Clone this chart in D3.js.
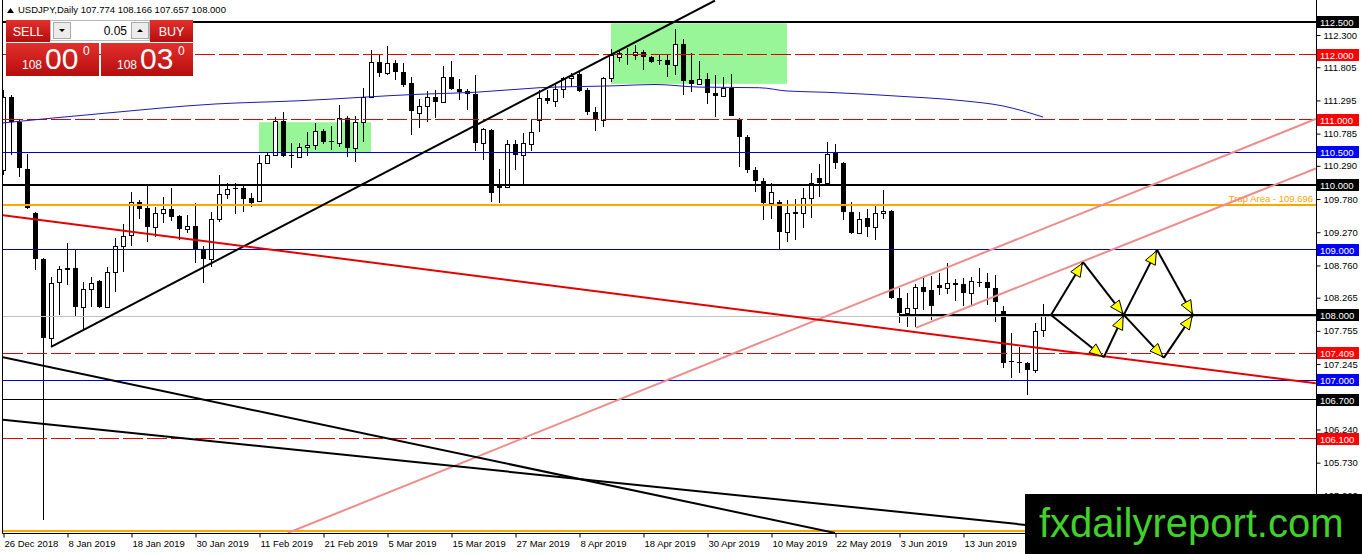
<!DOCTYPE html>
<html>
<head>
<meta charset="utf-8">
<script src="https://cdn.jsdelivr.net/npm/d3@7"></script>
<style>
  body { margin: 0; background: #fff; }
  svg { display: block; font-family: "Liberation Sans", Arial, sans-serif; }
</style>
</head>
<body>
<div id="chart"></div>
<script>
// USDJPY daily candles, 26 Dec 2018 .. 21 Jun 2019
const opens = [110.23,111.35,110.96,110.24,109.57,108.86,107.65,108.51,108.72,108.72,108.12,108.40,108.52,108.12,108.66,109.06,109.23,109.73,109.64,109.35,
  109.57,109.63,109.52,109.32,109.37,109.01,108.86,109.47,109.86,109.95,109.95,109.80,109.75,110.33,110.46,110.98,110.46,110.43,110.58,110.61,
  110.83,110.67,110.64,111.03,110.57,110.96,111.35,111.89,111.72,111.87,111.73,111.56,111.10,111.21,111.35,111.27,111.66,111.47,111.44,111.39,
  110.64,110.84,109.98,109.97,110.63,110.46,110.63,110.99,111.33,111.29,111.47,111.64,111.70,111.46,111.12,110.99,111.64,111.96,112.01,111.99,
  112.04,111.96,111.92,111.92,111.84,112.16,111.61,111.55,111.62,111.41,111.36,111.49,111.01,110.73,110.23,110.06,109.72,109.73,109.27,109.57,
  109.57,109.80,110.10,110.03,110.49,110.33,109.58,109.26,109.49,109.35,109.57,109.60,108.26,108.03,108.11,108.43,108.38,108.46,108.41,108.49,
  108.48,108.34,108.51,108.51,108.41,108.06,107.29,107.28,107.26,107.15,107.774];
const highs = [111.46,111.38,110.99,110.47,109.58,108.87,108.58,108.75,109.11,109.01,108.51,108.58,108.54,108.74,109.18,109.40,109.89,109.77,109.98,109.66,
  109.81,109.95,109.54,109.54,109.72,109.06,109.58,110.15,110.03,110.03,110.01,109.87,110.46,110.50,111.04,111.12,110.64,110.64,110.81,110.95,
  110.86,110.90,111.23,111.06,111.06,111.49,112.07,111.99,112.13,111.92,111.87,111.66,111.32,111.44,111.46,111.82,111.90,111.62,111.47,111.69,
  110.87,110.86,110.24,110.69,110.69,110.80,111.01,111.46,111.46,111.56,111.66,111.72,111.73,111.49,111.19,111.66,112.09,112.05,112.10,112.15,
  112.07,111.98,111.99,111.99,112.39,112.24,112.02,111.90,111.72,111.69,111.66,111.70,111.03,110.76,110.27,110.10,110.03,109.77,109.77,109.78,
  109.95,110.18,110.32,110.66,110.63,110.35,109.73,109.58,109.63,109.69,109.92,109.61,108.41,108.34,108.48,108.57,108.60,108.64,108.80,108.55,
  108.57,108.58,108.72,108.64,108.61,108.14,107.72,107.51,107.28,107.88,108.166];
const lows = [110.15,110.46,110.12,109.63,108.69,104.85,107.51,108.00,108.46,107.97,107.77,108.12,108.11,108.11,108.35,108.66,109.06,109.47,109.12,109.20,
  109.41,109.44,109.15,109.26,108.80,108.49,108.74,109.43,109.78,109.55,109.58,109.66,109.73,110.32,110.44,110.43,110.26,110.41,110.44,110.53,
  110.63,110.53,110.58,110.43,110.35,110.66,111.33,111.66,111.69,111.61,111.50,110.76,110.87,110.96,111.03,111.26,111.46,111.30,111.15,110.52,
  110.38,109.73,109.72,109.96,110.23,110.01,110.52,110.81,111.24,111.19,111.33,111.50,111.43,111.07,110.83,110.89,111.58,111.89,111.84,111.92,
  111.76,111.87,111.84,111.66,111.69,111.38,111.43,111.53,111.24,111.04,111.35,111.05,110.27,110.18,109.89,109.46,109.47,109.01,109.12,109.15,
  109.34,109.49,109.81,110.01,110.24,109.46,109.24,109.24,109.20,109.15,109.47,108.25,107.88,107.81,107.81,108.08,107.92,108.31,108.32,108.21,
  108.14,108.15,108.43,108.15,107.89,107.19,107.03,107.11,106.77,107.11,107.657];
const closes = [111.35,110.96,110.26,109.64,108.86,107.65,108.49,108.71,108.69,108.12,108.40,108.49,108.12,108.66,109.06,109.21,109.73,109.63,109.35,109.57,
  109.63,109.51,109.32,109.37,109.01,108.86,109.47,109.86,109.94,109.94,109.78,109.72,110.33,110.46,110.98,110.44,110.44,110.58,110.61,110.83,
  110.66,110.66,111.03,110.57,110.96,111.35,111.89,111.72,111.87,111.73,111.53,111.13,111.21,111.35,111.27,111.66,111.47,111.43,111.39,110.64,
  110.86,109.87,109.95,110.63,110.46,110.64,110.81,111.33,111.29,111.47,111.64,111.67,111.44,111.12,110.99,111.64,111.99,112.02,111.99,112.04,
  111.96,111.89,111.90,111.84,112.16,111.59,111.55,111.62,111.41,111.36,111.49,111.06,110.73,110.23,110.06,109.72,109.89,109.27,109.57,109.58,
  109.80,110.03,110.03,110.47,110.33,109.58,109.26,109.47,109.35,109.57,109.60,108.26,108.03,108.11,108.43,108.35,108.14,108.41,108.49,108.46,
  108.34,108.52,108.49,108.41,108.20,107.26,107.28,107.26,107.15,107.75,108.000];

// 200-period moving average, sampled points [bar, price]
const maPoints = [[0,110.95],[12,111.09],[26.5,111.24],[37,111.29],[52,111.39],[59,111.42],[67,111.49],[76.5,111.52],[81.5,111.54],
  [87,111.50],[94.6,111.49],[98,111.44],[103,111.42],[112,111.36],[120,111.29],[125,111.21],[130,111.04]];

// date axis (every 8th bar)
const dateBars = [0,8,16,24,32,40,48,56,64,72,80,88,96,104,112,120];
const dateLabels = ["26 Dec 2018","8 Jan 2019","18 Jan 2019","30 Jan 2019","11 Feb 2019","21 Feb 2019","5 Mar 2019","15 Mar 2019",
  "27 Mar 2019","8 Apr 2019","18 Apr 2019","30 Apr 2019","10 May 2019","22 May 2019","3 Jun 2019","13 Jun 2019"];

// price axis ticks (106.740 sits under the 106.700 tag, so it is left out)
const priceTicks = [112.300,111.805,111.295,110.785,110.290,109.780,109.270,108.760,108.265,107.755,107.245,106.240,105.730,105.220];

// horizontal levels
const levelPrices = [112.5, 112.0, 111.0, 110.5, 110.0, 109.0, 108.0, 107.409, 107.0, 106.7, 106.1];
const levelKinds  = ['bold','dash','dash','blue','bold','blue','bold','dash','blue','thin','dash'];
const levelFrom   = [0, 0, 0, 0, 0, 0, 112, 0, 0, 0, 0];
const trapPrice = 109.696;
const bottomLevel = 104.68;
const bidPrice = 107.98;

// trend lines [bar1, price1, bar2, price2]
const blackTrends = [[6,107.51,89,112.83],[0,107.35,104,104.65],[0,106.39,140,104.62]];
const redTrend = [0,109.53,164.1,106.95];
const pinkTrends = [[35.6,104.65,164.1,111.01],[114.1,107.80,164.1,110.25]];

// green zones [bar1, bar2, priceTop, priceBottom]
const zones = [[32,46,110.96,110.49],[76,98,112.48,111.55]];

// projected zig-zag, [bar, price]
const zigUp = [[131,108.0],[135,108.81],[140.1,108.0],[144.25,109.0],[148.75,108.0]];
const zigDown = [[131,108.0],[137.6,107.35],[140.1,108.0],[145.1,107.34],[148.75,108.0]];

const width = 1362, height = 554;
const plot = { left: 3, right: 1316, bottom: 533 };

const x = d3.scaleLinear().domain([0, 164]).range([3, 1315]);
const y = d3.scaleLinear().domain([107, 112.5]).range([380, 22]);

const levelStyle = {
  bold: { stroke: '#000', width: 2, dash: null, bg: '#000' },
  dash: { stroke: '#e00000', width: 1, dash: '20,4', bg: '#ff0000' },
  blue: { stroke: '#0000c8', width: 1, dash: null, bg: '#0000ff' },
  thin: { stroke: '#000', width: 1, dash: null, bg: '#000' }
};

const svg = d3.select('#chart').append('svg')
  .attr('width', width).attr('height', height);

const defs = svg.append('defs');
defs.append('clipPath').attr('id', 'plotclip')
  .append('rect').attr('x', plot.left).attr('y', 0)
  .attr('width', plot.right - plot.left).attr('height', plot.bottom);
const grad = defs.append('linearGradient').attr('id', 'redgrad')
  .attr('x1', 0).attr('y1', 0).attr('x2', 0).attr('y2', 1);
grad.append('stop').attr('offset', '0%').attr('stop-color', '#e3302c');
grad.append('stop').attr('offset', '100%').attr('stop-color', '#b50d0d');

const g = svg.append('g').attr('clip-path', 'url(#plotclip)');
const snap = v => Math.floor(v) + 0.5;

// green zones
g.selectAll('rect.zone').data(zones).join('rect')
  .attr('x', d => x(d[0])).attr('y', d => y(d[2]))
  .attr('width', d => x(d[1]) - x(d[0])).attr('height', d => y(d[3]) - y(d[2]))
  .attr('fill', '#98f598');

// candles
const candles = d3.range(opens.length).map(i => ({ i, o: opens[i], h: highs[i], l: lows[i], c: closes[i] }));
const cg = g.append('g');
cg.selectAll('rect.wick').data(candles).join('rect')
  .attr('x', d => x(d.i)).attr('width', 1)
  .attr('y', d => Math.round(y(d.h)))
  .attr('height', d => Math.max(1, Math.round(y(d.l)) - Math.round(y(d.h))))
  .attr('fill', '#000');
cg.selectAll('rect.body').data(candles).join('rect')
  .each(function(d) {
    const top = Math.round(y(Math.max(d.o, d.c)));
    const bot = Math.round(y(Math.min(d.o, d.c)));
    const r = d3.select(this);
    if (d.c >= d.o) {
      r.attr('x', x(d.i) - 1.5).attr('width', 4)
        .attr('y', top + 0.5).attr('height', Math.max(bot - top, 1))
        .attr('fill', '#fff').attr('stroke', '#000');
    } else {
      r.attr('x', x(d.i) - 2).attr('width', 5)
        .attr('y', top).attr('height', Math.max(bot - top, 1))
        .attr('fill', '#000');
    }
  });

// bid line
g.append('line').attr('x1', plot.left).attr('x2', plot.right)
  .attr('y1', snap(y(bidPrice))).attr('y2', snap(y(bidPrice)))
  .attr('stroke', '#c0c0c0');

// horizontal levels
levelPrices.forEach((p, i) => {
  const s = levelStyle[levelKinds[i]];
  const yy = s.width === 2 ? Math.round(y(p)) : snap(y(p));
  g.append('line').attr('x1', x(levelFrom[i])).attr('x2', plot.right)
    .attr('y1', yy).attr('y2', yy)
    .attr('stroke', s.stroke).attr('stroke-width', s.width)
    .attr('stroke-dasharray', s.dash);
});

// trap area + bottom orange level
[trapPrice, bottomLevel].forEach(p => {
  g.append('line').attr('x1', plot.left).attr('x2', plot.right)
    .attr('y1', Math.round(y(p))).attr('y2', Math.round(y(p)))
    .attr('stroke', '#ffa500').attr('stroke-width', 2);
});
g.append('text').attr('x', plot.right - 3).attr('y', y(trapPrice) - 3)
  .attr('text-anchor', 'end').attr('font-size', 9.5).attr('fill', '#ffa500')
  .text('Trap Area - ' + trapPrice.toFixed(3));

// moving average
g.append('path').datum(maPoints)
  .attr('d', d3.line().x(d => x(d[0])).y(d => y(d[1])).curve(d3.curveMonotoneX))
  .attr('fill', 'none').attr('stroke', '#1a1ab8').attr('stroke-width', 1);

// trend lines
const seg = (sel, data, color, w) => sel.selectAll(null).data(data).join('line')
  .attr('x1', d => x(d[0])).attr('y1', d => y(d[1]))
  .attr('x2', d => x(d[2])).attr('y2', d => y(d[3]))
  .attr('stroke', color).attr('stroke-width', w);
seg(g, pinkTrends, '#ee8c8c', 2);
seg(g, blackTrends, '#000', 2);
seg(g, [redTrend], '#e40000', 2);

// zig-zag projection with yellow arrow heads
const ag = svg.append('g');
[zigUp, zigDown].forEach(path => {
  for (let k = 0; k < path.length - 1; k++) {
    const x1 = x(path[k][0]), y1 = y(path[k][1]);
    const x2 = x(path[k + 1][0]), y2 = y(path[k + 1][1]);
    ag.append('line').attr('x1', x1).attr('y1', y1).attr('x2', x2).attr('y2', y2)
      .attr('stroke', '#000').attr('stroke-width', 2);
    const len = Math.hypot(x2 - x1, y2 - y1);
    const ux = (x2 - x1) / len, uy = (y2 - y1) / len;
    const tx = x2 - ux * 1.5, ty = y2 - uy * 1.5;
    const bx = tx - ux * 13, by = ty - uy * 13;
    const pts = [[tx, ty], [bx - uy * 5.5, by + ux * 5.5], [bx + uy * 5.5, by - ux * 5.5]];
    ag.append('polygon').attr('points', pts.map(p => p.join(',')).join(' '))
      .attr('fill', '#ffff00').attr('stroke', '#000').attr('stroke-width', 1);
  }
});

// frame
svg.append('path')
  .attr('d', `M2.5,0 V${plot.bottom + 0.5} H${plot.right + 0.5} V0`)
  .attr('fill', 'none').attr('stroke', '#000');

// price axis
const yAxis = svg.append('g').attr('transform', `translate(${plot.right + 0.5},0)`)
  .call(d3.axisRight(y).tickValues(priceTicks).tickSize(4).tickFormat(d3.format('.3f')));
yAxis.select('.domain').remove();
yAxis.selectAll('text').attr('font-size', 9.5).attr('font-family', 'Liberation Sans, Arial, sans-serif').attr('fill', '#000');

// time axis
const xAxis = svg.append('g').attr('transform', `translate(0,${plot.bottom + 0.5})`)
  .call(d3.axisBottom(x).tickValues(dateBars).tickSize(4).tickFormat((d, i) => dateLabels[i]));
xAxis.select('.domain').remove();
xAxis.selectAll('.tick line').attr('transform', 'translate(0.5,0)');
xAxis.selectAll('text').attr('text-anchor', 'start').attr('x', 1)
  .attr('font-size', 9.5).attr('font-family', 'Liberation Sans, Arial, sans-serif').attr('fill', '#000');

// level labels on the price axis
levelPrices.forEach((p, i) => {
  const s = levelStyle[levelKinds[i]];
  const yy = Math.round(y(p));
  svg.append('rect').attr('x', plot.right + 1).attr('y', yy - 6)
    .attr('width', 42).attr('height', 12).attr('fill', s.bg);
  svg.append('text').attr('x', plot.right + 4).attr('y', yy + 4)
    .attr('font-size', 9.5).attr('fill', '#fff').text(p.toFixed(3));
});

// header
svg.append('path').attr('d', 'M7,13 L10.5,8 L14,13 Z').attr('fill', '#000');
svg.append('text').attr('x', 18).attr('y', 13).attr('font-size', 9.5).attr('fill', '#000')
  .text(`USDJPY,Daily  ${opens[opens.length - 1].toFixed(3)} ${highs[highs.length - 1].toFixed(3)} ${lows[lows.length - 1].toFixed(3)} ${closes[closes.length - 1].toFixed(3)}`);

// one-click trading panel
const panel = svg.append('g');
panel.append('rect').attr('x', 6).attr('y', 20).attr('width', 44).attr('height', 22).attr('fill', 'url(#redgrad)');
panel.append('rect').attr('x', 150).attr('y', 20).attr('width', 43).attr('height', 22).attr('fill', 'url(#redgrad)');
panel.append('rect').attr('x', 50.5).attr('y', 20.5).attr('width', 99).attr('height', 20).attr('fill', '#fff').attr('stroke', '#bbb');
[53, 131].forEach((bx, k) => {
  panel.append('rect').attr('x', bx + 0.5).attr('y', 22.5).attr('width', 17).attr('height', 16)
    .attr('fill', '#ececec').attr('stroke', '#aaa');
  panel.append('path').attr('fill', '#000')
    .attr('d', k === 0 ? `M${bx + 6},29 h6 l-3,3 z` : `M${bx + 6},32 h6 l-3,-3 z`);
});
panel.append('text').attr('x', 127).attr('y', 35).attr('text-anchor', 'end').attr('font-size', 12).attr('fill', '#000').text('0.05');
panel.append('text').attr('x', 28).attr('y', 36).attr('text-anchor', 'middle').attr('font-size', 12.5).attr('fill', '#fff').text('SELL');
panel.append('text').attr('x', 171.5).attr('y', 36).attr('text-anchor', 'middle').attr('font-size', 12.5).attr('fill', '#fff').text('BUY');
[[6, 93, '00'], [101, 92, '03']].forEach(([bx, bw, pips]) => {
  panel.append('rect').attr('x', bx).attr('y', 43).attr('width', bw).attr('height', 33).attr('fill', 'url(#redgrad)');
  panel.append('text').attr('x', bx + 16).attr('y', 69).attr('font-size', 12).attr('fill', '#fff').text('108');
  panel.append('text').attr('x', bx + 39).attr('y', 69).attr('font-size', 30).attr('fill', '#fff').text(pips);
  panel.append('text').attr('x', bx + 77).attr('y', 55).attr('font-size', 12).attr('fill', '#fff').text('0');
});

// watermark
svg.append('rect').attr('x', 1025).attr('y', 494).attr('width', width - 1025).attr('height', height - 494).attr('fill', '#000');
svg.append('text').attr('x', 1039).attr('y', 537).attr('font-size', 40)
  .attr('font-family', 'Liberation Sans, Arial, sans-serif').attr('fill', '#40d22a').text('fxdailyreport.com');
</script>
</body>
</html>
